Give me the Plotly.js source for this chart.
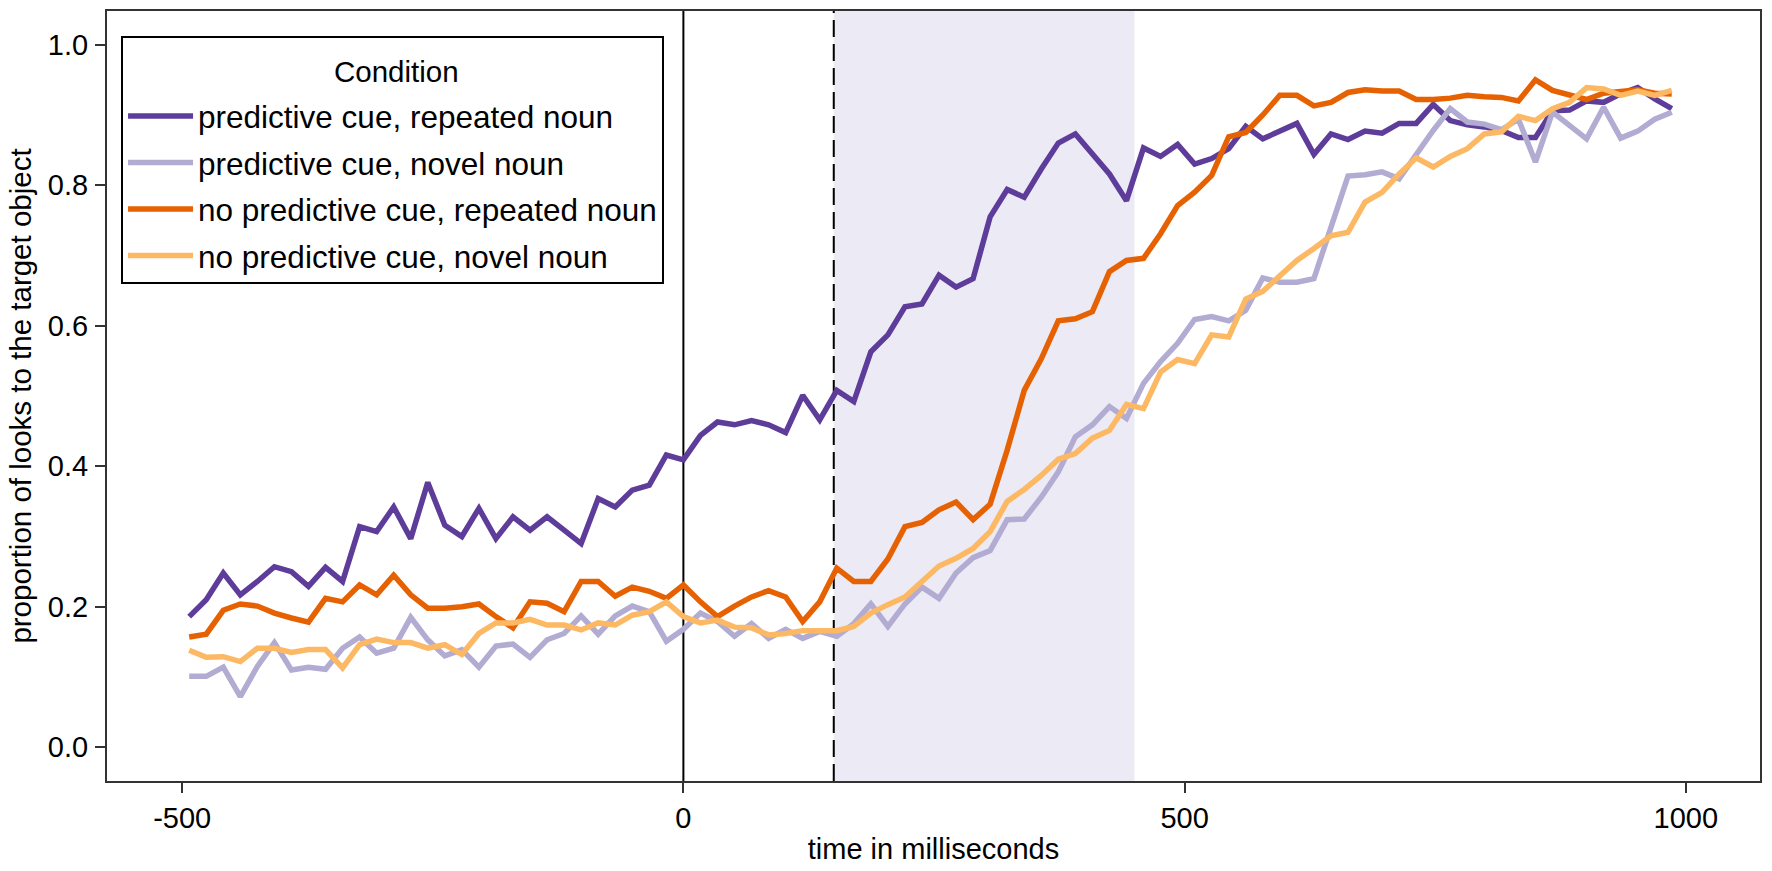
<!DOCTYPE html>
<html>
<head>
<meta charset="utf-8">
<script src="https://cdn.plot.ly/plotly-3.0.1.min.js"></script>
<style>
  html, body { margin: 0; padding: 0; background: #fff; }
  #chart { width: 1772px; height: 871px; }
</style>
</head>
<body>
<div id="chart"></div>
<script>
// time bins (ms from onset)
var timeMs = [-493, -476, -459, -442, -425, -408, -391, -374, -357, -340,
  -323, -306, -289, -272, -255, -238, -221, -204, -187, -170,
  -153, -136, -119, -102, -85, -68, -51, -34, -17, 0,
  17, 34, 51, 68, 85, 102, 119, 136, 153, 170,
  187, 204, 221, 238, 255, 272, 289, 306, 323, 340,
  357, 374, 391, 408, 425, 442, 459, 476, 493, 510,
  527, 544, 561, 578, 595, 612, 629, 646, 663, 680,
  697, 714, 731, 748, 765, 782, 799, 816, 833, 850,
  867, 884, 901, 918, 935, 952, 969, 986];

var predRepeated = [0.186, 0.210, 0.248, 0.217, 0.236, 0.257, 0.250, 0.229, 0.256, 0.236,
  0.314, 0.307, 0.342, 0.297, 0.377, 0.316, 0.300, 0.340, 0.297, 0.328,
  0.309, 0.328, 0.309, 0.290, 0.354, 0.342, 0.366, 0.373, 0.416, 0.409,
  0.444, 0.463, 0.459, 0.465, 0.459, 0.448, 0.501, 0.466, 0.508, 0.492,
  0.563, 0.587, 0.627, 0.631, 0.672, 0.655, 0.667, 0.755, 0.794, 0.783,
  0.823, 0.860, 0.873, 0.845, 0.816, 0.778, 0.853, 0.841, 0.858, 0.830,
  0.838, 0.852, 0.884, 0.866, 0.878, 0.888, 0.844, 0.873, 0.865, 0.877,
  0.874, 0.888, 0.888, 0.915, 0.892, 0.886, 0.883, 0.878, 0.868, 0.868,
  0.906, 0.907, 0.920, 0.918, 0.930, 0.939, 0.923, 0.909];

var predNovel = [0.101, 0.101, 0.114, 0.072, 0.115, 0.149, 0.110, 0.114, 0.111, 0.141,
  0.157, 0.134, 0.141, 0.185, 0.153, 0.130, 0.139, 0.114, 0.144, 0.147,
  0.128, 0.153, 0.162, 0.187, 0.161, 0.187, 0.201, 0.193, 0.151, 0.168,
  0.191, 0.179, 0.158, 0.176, 0.155, 0.168, 0.155, 0.165, 0.158, 0.176,
  0.204, 0.172, 0.204, 0.228, 0.212, 0.248, 0.270, 0.280, 0.324, 0.325,
  0.356, 0.392, 0.442, 0.459, 0.485, 0.468, 0.518, 0.549, 0.575, 0.609,
  0.613, 0.607, 0.622, 0.668, 0.662, 0.662, 0.667, 0.740, 0.813, 0.815,
  0.819, 0.809, 0.845, 0.878, 0.909, 0.890, 0.887, 0.879, 0.894, 0.833,
  0.904, 0.885, 0.866, 0.911, 0.867, 0.877, 0.894, 0.904];

var noPredRepeated = [0.157, 0.161, 0.195, 0.204, 0.201, 0.191, 0.184, 0.178, 0.212, 0.207,
  0.231, 0.217, 0.245, 0.217, 0.198, 0.198, 0.200, 0.204, 0.186, 0.170,
  0.207, 0.205, 0.193, 0.236, 0.236, 0.215, 0.228, 0.222, 0.212, 0.231,
  0.207, 0.186, 0.201, 0.214, 0.223, 0.214, 0.179, 0.207, 0.255, 0.236,
  0.236, 0.268, 0.314, 0.320, 0.338, 0.349, 0.324, 0.346, 0.423, 0.508,
  0.553, 0.607, 0.610, 0.620, 0.677, 0.693, 0.696, 0.731, 0.771, 0.790,
  0.814, 0.869, 0.875, 0.900, 0.928, 0.928, 0.913, 0.918, 0.932, 0.936,
  0.934, 0.934, 0.922, 0.922, 0.924, 0.928, 0.926, 0.925, 0.920, 0.950,
  0.935, 0.928, 0.922, 0.931, 0.934, 0.936, 0.931, 0.930];

var noPredNovel = [0.138, 0.128, 0.129, 0.122, 0.141, 0.141, 0.135, 0.139, 0.139, 0.113,
  0.146, 0.154, 0.149, 0.149, 0.141, 0.146, 0.132, 0.162, 0.177, 0.177,
  0.182, 0.174, 0.174, 0.167, 0.177, 0.174, 0.188, 0.193, 0.207, 0.186,
  0.177, 0.181, 0.171, 0.170, 0.160, 0.162, 0.166, 0.166, 0.166, 0.172,
  0.191, 0.203, 0.214, 0.236, 0.258, 0.269, 0.283, 0.307, 0.350, 0.367,
  0.387, 0.410, 0.418, 0.440, 0.451, 0.488, 0.482, 0.534, 0.552, 0.546,
  0.587, 0.584, 0.638, 0.649, 0.672, 0.693, 0.710, 0.728, 0.733, 0.776,
  0.790, 0.816, 0.839, 0.826, 0.841, 0.852, 0.873, 0.876, 0.898, 0.892,
  0.909, 0.918, 0.939, 0.937, 0.928, 0.934, 0.928, 0.935];

var conditionNames = ['predictive cue, repeated noun', 'predictive cue, novel noun',
  'no predictive cue, repeated noun', 'no predictive cue, novel noun'];
var conditionColors = ['#5e3c99', '#b2abd2', '#e66101', '#fdb863'];
var legendTitle = 'Condition';

var xTickVals = [-500, 0, 500, 1000];
var xTickText = ['-500', '0', '500', '1000'];
var yTickVals = [0, 0.2, 0.4, 0.6, 0.8, 1.0];

// marker lines: word onset (0), cue offset (150), analysis window (150-450)
var onsetMs = 0;
var cueMs = 150;
var windowMs = [150, 450];

var series = [predRepeated, predNovel, noPredRepeated, noPredNovel];
var font = 'Liberation Sans, Arial, sans-serif';

var data = series.map(function(vals, k) {
  return {
    x: timeMs,
    y: vals,
    type: 'scatter',
    mode: 'lines',
    name: conditionNames[k],
    legendgroup: 'g' + k,
    line: { color: conditionColors[k], width: 5.5 },
    hoverinfo: 'x+y+name'
  };
});

var layout = {
  width: 1772,
  height: 871,
  margin: { l: 107, r: 12, t: 11, b: 90 },
  paper_bgcolor: '#ffffff',
  plot_bgcolor: '#ffffff',
  font: { family: font, size: 29, color: '#000' },
  showlegend: true,
  legend: {
    x: 0.0085,
    y: 0.967,
    xanchor: 'left',
    yanchor: 'top',
    bgcolor: '#ffffff',
    bordercolor: '#000',
    borderwidth: 2,
    font: { family: font, size: 31.5, color: '#000' },
    // blank title only reserves the header room; the word itself is an annotation
    title: { text: ' ', side: 'top', font: { family: font, size: 39, color: '#000' } },
    tracegroupgap: 2.5,
    itemwidth: 65
  },
  annotations: [{
    text: legendTitle,
    xref: 'paper', yref: 'paper',
    x: 0.1754, y: 0.9217,
    xanchor: 'center', yanchor: 'middle',
    showarrow: false,
    font: { family: font, size: 29.5, color: '#000' }
  }],
  xaxis: {
    range: [-575, 1074],
    tickvals: xTickVals,
    ticktext: xTickText,
    ticks: 'outside',
    ticklen: 10,
    tickwidth: 2,
    tickcolor: '#333',
    tickfont: { family: font, size: 29, color: '#000' },
    showline: true,
    mirror: true,
    linecolor: '#333',
    linewidth: 2,
    showgrid: false,
    zeroline: false,
    title: { text: 'time in milliseconds', standoff: 6, font: { family: font, size: 29, color: '#000' } }
  },
  yaxis: {
    range: [-0.048, 1.048],
    tickvals: yTickVals,
    tickformat: '.1f',
    ticks: 'outside',
    ticklen: 10,
    tickwidth: 2,
    tickcolor: '#333',
    ticklabelstandoff: 1,
    tickfont: { family: font, size: 29, color: '#000' },
    showline: true,
    mirror: true,
    linecolor: '#333',
    linewidth: 2,
    showgrid: false,
    zeroline: false,
    title: { text: 'proportion of looks to the target object', standoff: 8, font: { family: font, size: 29.5, color: '#000' } }
  },
  shapes: [
    {
      type: 'rect', layer: 'below', xref: 'x', yref: 'paper',
      x0: windowMs[0], x1: windowMs[1], y0: 0, y1: 1,
      fillcolor: 'rgba(178,171,210,0.25)', line: { width: 0 }
    },
    {
      type: 'line', layer: 'below', xref: 'x', yref: 'paper',
      x0: onsetMs, x1: onsetMs, y0: 0, y1: 1,
      line: { color: '#000', width: 2 }
    },
    {
      type: 'line', layer: 'below', xref: 'x', yref: 'paper',
      x0: cueMs, x1: cueMs, y0: 0, y1: 1,
      line: { color: '#000', width: 2, dash: '17px,7px' }
    }
  ]
};

Plotly.newPlot('chart', data, layout, { displayModeBar: false, staticPlot: true });
</script>
</body>
</html>
